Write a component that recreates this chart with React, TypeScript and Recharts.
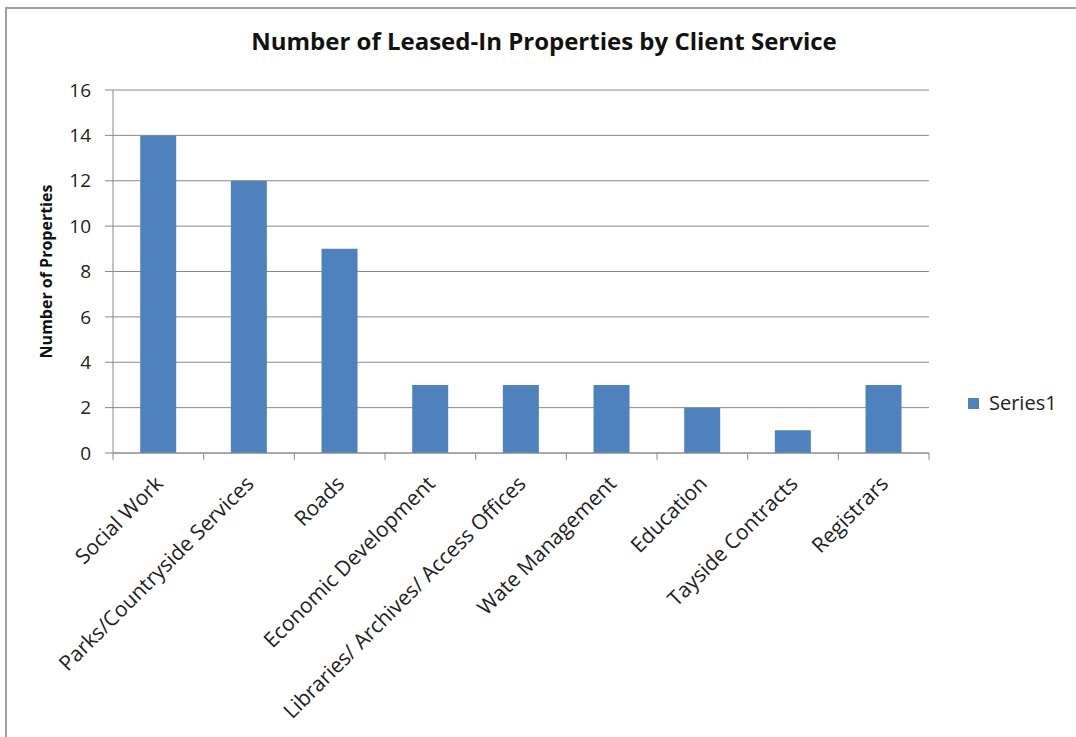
import React from 'react';
import { BarChart, Bar, XAxis, YAxis, CartesianGrid, Legend, Label } from 'recharts';

const services = [
  'Social Work',
  'Parks/Countryside Services',
  'Roads',
  'Economic Development',
  'Libraries/ Archives/ Access Offices',
  'Wate Management',
  'Education',
  'Tayside Contracts',
  'Registrars',
];
const series1 = [14, 12, 9, 3, 3, 3, 2, 1, 3];
const yTicks = [0, 2, 4, 6, 8, 10, 12, 14, 16];

const data = services.map((name, i) => ({ name, Series1: series1[i] }));

const W = 1076;
const H = 737;
const X_H = 30;
const M = { top: 90, right: 147, bottom: 284 - X_H, left: 0 };
const Y_W = 113;
const band = (W - M.left - M.right - Y_W) / services.length;

const FONT = '"Open Sans", "Liberation Sans", sans-serif';
const GRID = '#8a8a8a';
const BLUE = '#4f81bd';

// Excel-style: tick marks between categories, labels rotated -45
const XTick = (props: any) => {
  const { x, y, payload, index } = props;
  const left = x - band / 2;
  const ax = x + 6;
  const ay = y + 22;
  return (
    <g>
      <line x1={left} y1={y - 10} x2={left} y2={y - 3} stroke={GRID} />
      {index === services.length - 1 && (
        <line x1={x + band / 2} y1={y - 10} x2={x + band / 2} y2={y - 3} stroke={GRID} />
      )}
      <text
        x={ax}
        y={ay}
        transform={`rotate(-45 ${ax} ${ay})`}
        textAnchor="end"
        fontSize={21}
        fontFamily={FONT}
        fill="#222"
      >
        {payload.value}
      </text>
    </g>
  );
};

const YLabel = (props: any) => {
  const vb = props.viewBox;
  const cx = 48;
  const cy = vb.y + vb.height / 2;
  return (
    <text
      x={cx}
      y={cy}
      transform={`rotate(-90 ${cx} ${cy})`}
      textAnchor="middle"
      dominantBaseline="middle"
      fontSize={16}
      fontWeight="bold"
      fontFamily={FONT}
      fill="#111"
    >
      Number of Properties
    </text>
  );
};

const LegendContent = () => (
  <div style={{ display: 'flex', alignItems: 'center', fontFamily: FONT, fontSize: 20, color: '#222', lineHeight: '24px' }}>
    <span style={{ display: 'inline-block', width: 11, height: 11, background: BLUE, marginRight: 10 }} />
    Series1
  </div>
);

export default function App() {
  return (
    <div style={{ position: 'absolute', left: 0, top: 0, width: W, height: H, background: '#fff' }}>
      <div
        style={{
          position: 'absolute',
          left: 5,
          top: 7,
          right: -10,
          bottom: -10,
          borderTop: '2px solid #a0a0a0',
          borderLeft: '2px solid #a0a0a0',
        }}
      />
      <div
        style={{
          position: 'absolute',
          left: 0,
          width: W,
          top: 24,
          textAlign: 'center',
          fontFamily: FONT,
          fontWeight: 'bold',
          fontSize: 24,
          color: '#111',
          paddingLeft: 12,
          boxSizing: 'border-box',
        }}
      >
        Number of Leased-In Properties by Client Service
      </div>
      <div style={{ position: 'absolute', left: 0, top: 0 }}>
        <BarChart width={W} height={H} data={data} margin={M} barCategoryGap="30%">
          <CartesianGrid vertical={false} stroke={GRID} />
          <XAxis
            dataKey="name"
            height={X_H}
            interval={0}
            tickLine={false}
            axisLine={{ stroke: GRID }}
            tick={<XTick />}
            tickSize={8}
          />
          <YAxis
            width={Y_W}
            domain={[0, 16]}
            ticks={yTicks}
            interval={0}
            tickSize={8}
            tickMargin={14}
            tickLine={{ stroke: GRID }}
            axisLine={{ stroke: GRID }}
            tick={{ fontSize: 19, fontFamily: FONT, fill: '#222' }}
          >
            <Label content={<YLabel />} />
          </YAxis>
          <Legend
            layout="horizontal"
            verticalAlign="middle"
            align="center"
            content={<LegendContent />}
            wrapperStyle={{ left: 968, top: 391, width: 105 }}
          />
          <Bar dataKey="Series1" fill={BLUE} isAnimationActive={false} />
        </BarChart>
      </div>
    </div>
  );
}
